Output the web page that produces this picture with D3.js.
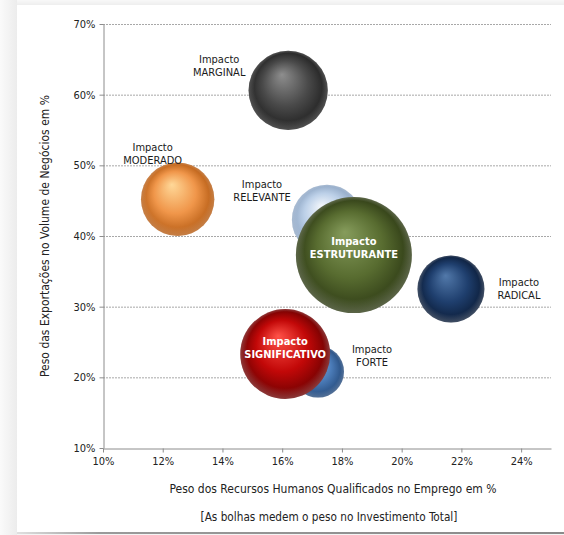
<!DOCTYPE html>
<html><head><meta charset="utf-8">
<script src="https://cdn.jsdelivr.net/npm/d3@7/dist/d3.min.js"></script>
<style>
html,body{margin:0;padding:0;background:#fff;}
svg{display:block;}
</style></head>
<body>
<svg id="c" width="564" height="535"></svg>
<script>
// ---- data ----
const names = ["MARGINAL","MODERADO","RELEVANTE","FORTE","RADICAL","ESTRUTURANTE","SIGNIFICATIVO"];
const qualifiedHR = [16.2, 12.5, 17.5, 17.2, 21.65, 18.4, 16.1];   // x, %
const exportsShare = [60.6, 45.2, 42.3, 20.8, 32.5, 37.3, 23.3];   // y, %
const investment = [14, 12, 11, 6, 10, 30, 18];                     // bubble size, %
const xTicks = [10,12,14,16,18,20,22,24];
const yTicks = [10,20,30,40,50,60,70];
const labelPrefix = "Impacto";

// ---- styles / placement ----
const colors = {
  MARGINAL:["#8e8e8e","#4a4a4a","#1c1c1c"],
  MODERADO:["#ffd898","#f0964a","#b0560e"],
  RELEVANTE:["#f2f6fb","#bcd0e8","#8aa2c0"],
  FORTE:["#94b8e2","#4c7dba","#224676"],
  RADICAL:["#5279aa","#1f3f6e","#0a1a34"],
  ESTRUTURANTE:["#869c5c","#586c30","#2a3612"],
  SIGNIFICATIVO:["#ff5248","#c20808","#640000"]
};
const place = {
  MARGINAL:{dx:-69,dy:-27,inside:false},
  MODERADO:{dx:-25,dy:-48,inside:false},
  RELEVANTE:{dx:-65,dy:-32,inside:false},
  FORTE:{dx:54,dy:-19,inside:false},
  RADICAL:{dx:68,dy:-3,inside:false},
  ESTRUTURANTE:{dx:0,dy:-10,inside:true},
  SIGNIFICATIVO:{dx:0,dy:-9,inside:true}
};

const svg = d3.select("#c");
const font = "Tahoma, 'DejaVu Sans Condensed', 'DejaVu Sans', sans-serif";

// background frame
const defs = svg.append("defs");
const lg = defs.append("linearGradient").attr("id","leftShade").attr("x1","0").attr("x2","1");
lg.append("stop").attr("offset","0").attr("stop-color","#fafafa");
lg.append("stop").attr("offset","1").attr("stop-color","#ececec");
const tg = defs.append("linearGradient").attr("id","topShade").attr("x1","0").attr("x2","0").attr("y1","0").attr("y2","1");
tg.append("stop").attr("offset","0").attr("stop-color","#f8f8f8");
tg.append("stop").attr("offset","1").attr("stop-color","#eeeeee");
const bg = defs.append("linearGradient").attr("id","botLine").attr("x1","0").attr("x2","1");
bg.append("stop").attr("offset","0").attr("stop-color","#e0e0e0");
bg.append("stop").attr("offset","0.15").attr("stop-color","#9a9a9a");
bg.append("stop").attr("offset","1").attr("stop-color","#8a8a8a");
svg.append("rect").attr("x",0).attr("y",0).attr("width",564).attr("height",535).attr("fill","#f4f4f4");
svg.append("rect").attr("x",0).attr("y",0).attr("width",564).attr("height",5).attr("fill","url(#topShade)");
svg.append("rect").attr("x",0).attr("y",0).attr("width",17).attr("height",535).attr("fill","url(#leftShade)");
svg.append("rect").attr("x",17).attr("y",5).attr("width",547).attr("height",527).attr("fill","#fff");
svg.append("rect").attr("x",17).attr("y",532).attr("width",547).attr("height",2).attr("fill","url(#botLine)");

// scales
const x = d3.scaleLinear().domain([10,25]).range([103,551]);
const y = d3.scaleLinear().domain([10,70]).range([448,24]);
const r = d3.scaleSqrt().domain([0,30]).range([0,58]);

// gridlines
svg.append("g").selectAll("line").data(yTicks.filter(d=>d>10)).join("line")
  .attr("x1",x(10)).attr("x2",x(25)).attr("y1",d=>y(d)+0.5).attr("y2",d=>y(d)+0.5)
  .attr("stroke","#a8a8a8").attr("stroke-width",1).attr("stroke-dasharray","2,1");

// axes
const fmt = d=>d+"%";
const xAxis = svg.append("g").attr("transform",`translate(0,${y(10)+0.5})`)
  .call(d3.axisBottom(x).tickValues(xTicks).tickFormat(fmt).tickSize(4).tickSizeOuter(0));
const yAxis = svg.append("g").attr("transform",`translate(${x(10)+0.5},0)`)
  .call(d3.axisLeft(y).tickValues(yTicks).tickFormat(fmt).tickSize(4).tickSizeOuter(0));
[xAxis,yAxis].forEach(a=>{
  a.select(".domain").attr("stroke","#8c8c8c");
  a.selectAll(".tick line").attr("stroke","#8c8c8c");
  a.selectAll(".tick text").attr("fill","#222").style("font-family",font).style("font-size","11px");
});
xAxis.selectAll(".tick text").attr("dy","0.85em");
yAxis.selectAll(".tick text").attr("x",-8);

// gradients for bubbles
names.forEach(n=>{
  const c = colors[n];
  const g = defs.append("radialGradient").attr("id","g_"+n)
    .attr("cx","50%").attr("cy","50%").attr("r","52%").attr("fx","42%").attr("fy","30%");
  g.append("stop").attr("offset","0").attr("stop-color",c[0]);
  g.append("stop").attr("offset","0.55").attr("stop-color",c[1]);
  g.append("stop").attr("offset","1").attr("stop-color",c[2]);
});
const rim = defs.append("radialGradient").attr("id","rim")
  .attr("cx","50%").attr("cy","50%").attr("r","50%").attr("fx","50%").attr("fy","20%");
rim.append("stop").attr("offset","0").attr("stop-color","#fff").attr("stop-opacity",0);
rim.append("stop").attr("offset","0.85").attr("stop-color","#fff").attr("stop-opacity",0);
rim.append("stop").attr("offset","1").attr("stop-color","#fff").attr("stop-opacity",0.22);

const data = names.map((n,i)=>({n, x:qualifiedHR[i], y:exportsShare[i], s:investment[i]}));

const bub = svg.append("g");
data.forEach(d=>{
  bub.append("circle").attr("cx",x(d.x)).attr("cy",y(d.y)).attr("r",r(d.s))
    .attr("fill",`url(#g_${d.n})`);
  bub.append("circle").attr("cx",x(d.x)).attr("cy",y(d.y)).attr("r",r(d.s))
    .attr("fill","url(#rim)");
});

// labels
const lab = svg.append("g");
data.forEach(d=>{
  const p = place[d.n];
  const t = lab.append("text")
    .attr("x",x(d.x)+p.dx).attr("y",y(d.y)+p.dy)
    .attr("text-anchor","middle")
    .style("font-family",font)
    .style("font-size", p.inside? "11px":"11px")
    .style("font-weight", p.inside? "bold":"normal")
    .attr("fill", p.inside? "#fff":"#1a1a1a");
  t.append("tspan").attr("x",x(d.x)+p.dx).text(labelPrefix);
  t.append("tspan").attr("x",x(d.x)+p.dx).attr("dy", 13).text(d.n);
});

// axis titles
svg.append("text").attr("x",333).attr("y",493).attr("text-anchor","middle")
  .style("font-family",font).style("font-size","12px").attr("fill","#222")
  .text("Peso dos Recursos Humanos Qualificados no Emprego em %");
svg.append("text").attr("x",329).attr("y",521).attr("text-anchor","middle")
  .style("font-family",font).style("font-size","11.7px").attr("fill","#222")
  .text("[As bolhas medem o peso no Investimento Total]");
svg.append("text").attr("transform","translate(49,236) rotate(-90)").attr("text-anchor","middle")
  .style("font-family",font).style("font-size","12px").attr("fill","#222")
  .text("Peso das Exportações no Volume de Negócios em %");
</script>
</body></html>
